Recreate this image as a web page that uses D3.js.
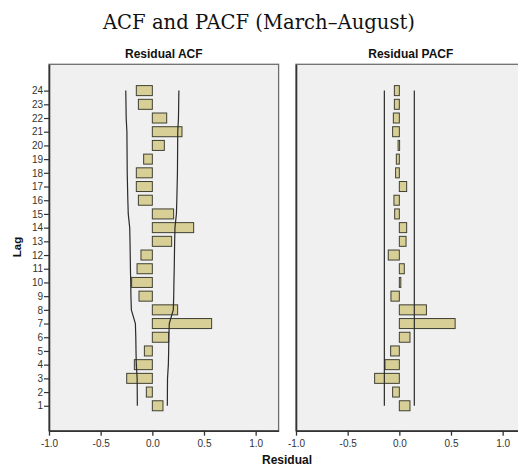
<!DOCTYPE html>
<html>
<head>
<meta charset="utf-8">
<script src="https://cdn.jsdelivr.net/npm/d3@7"></script>
<style>
  html, body { margin: 0; padding: 0; background: #ffffff; }
  svg { display: block; }
</style>
</head>
<body>
<svg id="chart" width="518" height="466"></svg>
<script>
// Lags 1..24
const lags = d3.range(1, 25);

// Residual autocorrelation by lag
const acfValues = [0.103, -0.058, -0.248, -0.174, -0.077, 0.158, 0.574, 0.245,
  -0.129, -0.200, -0.148, -0.110, 0.187, 0.400, 0.206, -0.135,
  -0.155, -0.155, -0.084, 0.116, 0.287, 0.139, -0.135, -0.155];

// Upper confidence limit of the ACF by lag (the lower limit mirrors it)
const acfLimit = [0.145, 0.146, 0.147, 0.155, 0.158, 0.160, 0.164, 0.203,
  0.207, 0.209, 0.212, 0.214, 0.216, 0.219, 0.233, 0.237,
  0.240, 0.243, 0.244, 0.245, 0.246, 0.253, 0.255, 0.257];

// Residual partial autocorrelation by lag
const pacfValues = [0.103, -0.065, -0.239, -0.139, -0.084, 0.103, 0.540, 0.262,
  -0.081, 0.013, 0.048, -0.107, 0.065, 0.071, -0.045, -0.052,
  0.071, -0.036, -0.029, -0.012, -0.065, -0.058, -0.048, -0.048];

// PACF confidence limit (constant)
const pacfLimit = 0.145;

// Axis tick values
const xTicks = [-1.0, -0.5, 0.0, 0.5, 1.0];

const svg = d3.select("#chart");

// Shared vertical scale (lag)
const y = d3.scaleLinear().domain([-0.82, 25.92]).range([430.7, 64.3]);
const barH = y(0) - y(0.73);

const panels = [
  { title: "Residual ACF", x0: 49, values: acfValues,
    upper: acfLimit, lower: acfLimit.map(v => -v), showLag: true },
  { title: "Residual PACF", x0: 296, values: pacfValues,
    upper: lags.map(() => pacfLimit), lower: lags.map(() => -pacfLimit), showLag: false }
];

const panelW = 229.6;
const plotTop = y.range()[1], plotBottom = y.range()[0];
const fmt = d => d.toFixed(1);

panels.forEach(p => {
  const x = d3.scaleLinear().domain([-1, 1.222]).range([p.x0, p.x0 + panelW]);
  const g = svg.append("g");

  // Plot area background and frame
  g.append("rect")
    .attr("x", p.x0).attr("y", plotTop)
    .attr("width", panelW).attr("height", plotBottom - plotTop)
    .attr("fill", "#f0f0f0")
    .attr("stroke", "#6e6e6e").attr("stroke-width", 1.3);

  // Bars
  g.selectAll("rect.bar").data(lags).join("rect")
    .attr("class", "bar")
    .attr("x", (d, i) => Math.min(x(0), x(p.values[i])))
    .attr("width", (d, i) => Math.max(1.5, Math.abs(x(p.values[i]) - x(0))))
    .attr("y", d => y(d) - barH / 2)
    .attr("height", barH)
    .attr("fill", "#d8cf97")
    .attr("stroke", "#3f3f33")
    .attr("stroke-width", 1);

  // Confidence limits
  const line = d3.line().x(d => x(d[1])).y(d => y(d[0]));
  [p.upper, p.lower].forEach(arr => {
    g.append("path")
      .datum(lags.map((l, i) => [l, arr[i]]))
      .attr("d", line)
      .attr("fill", "none")
      .attr("stroke", "#2a2a2a")
      .attr("stroke-width", 1.2);
  });

  // Bottom axis
  const xa = g.append("g")
    .attr("transform", `translate(0,${plotBottom})`)
    .call(d3.axisBottom(x).tickValues(xTicks).tickFormat(fmt).tickSize(5).tickPadding(4).tickSizeOuter(0));
  xa.select(".domain").attr("stroke", "#333").attr("stroke-width", 1.6);
  xa.selectAll(".tick line").attr("stroke", "#333").attr("stroke-width", 1.3);
  xa.selectAll("text").attr("font-family", "Liberation Sans, Arial, sans-serif")
    .attr("font-size", 10).attr("fill", "#333");

  // Left axis
  const ya = g.append("g")
    .attr("transform", `translate(${p.x0},0)`)
    .call(d3.axisLeft(y).tickValues(p.showLag ? lags : []).tickFormat(d3.format("d"))
      .tickSize(5).tickPadding(1).tickSizeOuter(0));
  ya.select(".domain").attr("stroke", "#333").attr("stroke-width", 1.6);
  ya.selectAll(".tick line").attr("stroke", "#333").attr("stroke-width", 1.2);
  ya.selectAll("text").attr("font-family", "Liberation Sans, Arial, sans-serif")
    .attr("font-size", 10).attr("fill", "#333");

  // Panel title
  g.append("text")
    .attr("x", p.x0 + panelW / 2).attr("y", 57.5)
    .attr("text-anchor", "middle")
    .attr("font-family", "Liberation Sans, Arial, sans-serif")
    .attr("font-weight", "bold").attr("font-size", 12).attr("fill", "#111")
    .text(p.title);
});

// Chart title
svg.append("text")
  .attr("x", 259).attr("y", 29)
  .attr("text-anchor", "middle")
  .attr("font-family", "DejaVu Serif, serif")
  .attr("font-size", 19.6).attr("fill", "#111")
  .text("ACF and PACF (March–August)");

// Axis titles
svg.append("text")
  .attr("transform", "translate(21,247) rotate(-90)")
  .attr("text-anchor", "middle")
  .attr("font-family", "Liberation Sans, Arial, sans-serif")
  .attr("font-weight", "bold").attr("font-size", 11.5).attr("fill", "#111")
  .text("Lag");

svg.append("text")
  .attr("x", 287).attr("y", 464)
  .attr("text-anchor", "middle")
  .attr("font-family", "Liberation Sans, Arial, sans-serif")
  .attr("font-weight", "bold").attr("font-size", 12).attr("fill", "#111")
  .text("Residual");
</script>
</body>
</html>
